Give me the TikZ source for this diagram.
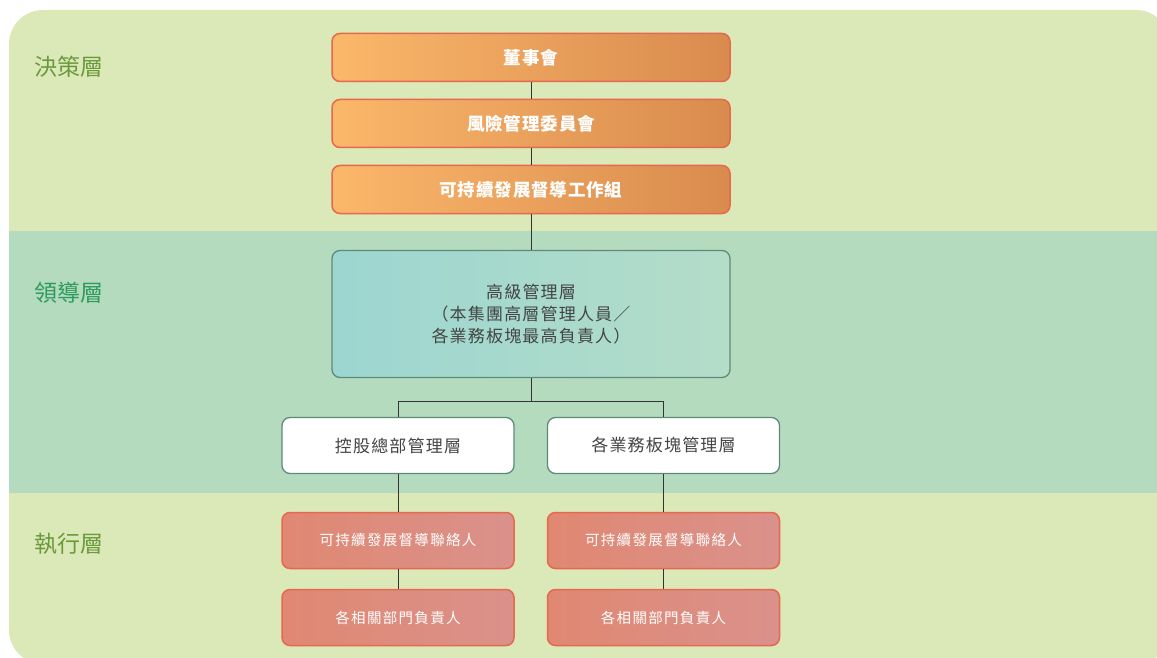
\documentclass[tikz,border=0pt]{standalone}
\usepackage{fontspec}
\setmainfont{Noto Sans CJK TC}
\definecolor{panelgreen}{HTML}{DBE8B8}
\definecolor{bandgreen}{HTML}{B5DBBF}
\definecolor{olivetxt}{HTML}{6B9A3C}
\definecolor{leadtxt}{HTML}{2E9B5E}
\definecolor{orangeL}{HTML}{FBB76A}
\definecolor{orangeR}{HTML}{D98B4E}
\definecolor{redline}{HTML}{E5684F}
\definecolor{tealL}{HTML}{9CD6D1}
\definecolor{tealR}{HTML}{B4DDC8}
\definecolor{tealline}{HTML}{5F8A7A}
\definecolor{salmonL}{HTML}{E08872}
\definecolor{salmonR}{HTML}{DA918B}
\definecolor{greytxt}{HTML}{444444}
\begin{document}
\begin{tikzpicture}[x=1pt,y=-1pt,
    layer/.style={anchor=west, font=\fontsize{23}{26}\selectfont},
    decidebox/.style={draw=redline, line width=1.5pt, rounded corners=8pt,
        left color=orangeL, right color=orangeR, minimum width=398pt, minimum height=48pt,
        text=white, font=\fontsize{17.5}{20}\selectfont\bfseries\addfontfeature{LetterSpace=5}},
    leadbox/.style={draw=tealline, line width=1.3pt, rounded corners=8pt,
        left color=tealL, right color=tealR, minimum width=398pt, minimum height=127pt,
        text=greytxt, align=center, font=\fontsize{17}{22}\selectfont\addfontfeature{LetterSpace=7}},
    mgmtbox/.style={draw=tealline, line width=1.3pt, rounded corners=8pt, fill=white,
        minimum width=232pt, minimum height=56pt, text=greytxt,
        font=\fontsize{17}{20}\selectfont\addfontfeature{LetterSpace=7}},
    execbox/.style={draw=redline, line width=1.5pt, rounded corners=8pt,
        left color=salmonL, right color=salmonR, minimum width=232pt, minimum height=56pt,
        text=white, font=\fontsize{14.5}{18}\selectfont\addfontfeature{LetterSpace=9}},
    link/.style={draw=black!80, line width=1pt}]
    \useasboundingbox (0,0) rectangle (1157,658);
    \clip (0,0) rectangle (1157,658);

    % background bands
    \fill[panelgreen, rounded corners=34pt] (9,10) rectangle (1170,664);
    \fill[bandgreen] (9,231) rectangle (1170,493);

    \node[layer, text=olivetxt] (decide) at (31,67) {決策層};
    \node[layer, text=leadtxt] (lead) at (31,293) {領導層};
    \node[layer, text=olivetxt] (exec) at (31,544) {執行層};

    % decision layer
    \node[decidebox] (board) at (531,57.5) {董事會};
    \node[decidebox] (risk) at (531,123.5) {風險管理委員會};
    \node[decidebox] (sust) at (531,189.5) {可持續發展督導工作組};

    % leadership layer
    \node[leadbox] (senior) at (531,314) {高級管理層\\（本集團高層管理人員／\\各業務板塊最高負責人）};
    \coordinate (fork) at (531,401);
    \node[mgmtbox] (hq) at (398,445.5) {控股總部管理層};
    \node[mgmtbox] (seg) at (663.5,445.5) {各業務板塊管理層};

    % execution layer
    \node[execbox] (hqcontact) at (398,540.5) {可持續發展督導聯絡人};
    \node[execbox] (hqdept) at (398,617.5) {各相關部門負責人};
    \node[execbox] (segcontact) at (663.5,540.5) {可持續發展督導聯絡人};
    \node[execbox] (segdept) at (663.5,617.5) {各相關部門負責人};

    \draw[link] (board)--(risk)--(sust)--(senior);
    \draw[link] (senior)--(fork)-|(hq);
    \draw[link] (fork)-|(seg);
    \draw[link] (hq)--(hqcontact)--(hqdept);
    \draw[link] (seg)--(segcontact)--(segdept);
\end{tikzpicture}
\end{document}
